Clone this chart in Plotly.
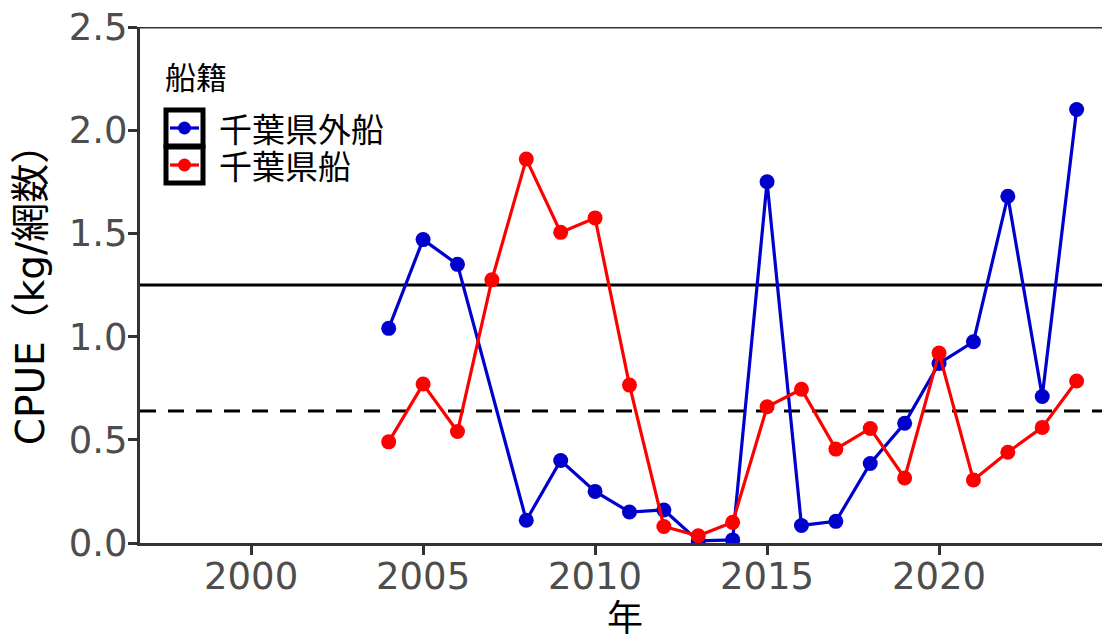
import plotly.graph_objects as go

years = list(range(2004, 2025))
outside = [1.04, 1.47, 1.35, None, 0.11, 0.40, 0.25, 0.15, 0.16, 0.01, 0.015,
           1.75, 0.085, 0.105, 0.385, 0.58, 0.87, 0.975, 1.68, 0.71, 2.10]
chiba = [0.49, 0.77, 0.54, 1.275, 1.86, 1.505, 1.575, 0.765, 0.08, 0.035, 0.10,
         0.66, 0.745, 0.455, 0.555, 0.315, 0.92, 0.305, 0.44, 0.56, 0.785]
series_names = ["千葉県外船", "千葉県船"]
series_colors = ["#0000CD", "#FF0000"]
legend_title = "船籍"
ref_solid = 1.25
ref_dashed = 0.64
y_top = 2.5
x_ticks = [2000, 2005, 2010, 2015, 2020]
y_ticks = [0.0, 0.5, 1.0, 1.5, 2.0, 2.5]

FONT = "DejaVu Sans, Noto Sans CJK JP, sans-serif"
CJK = "Noto Sans CJK JP, sans-serif"

# the page body adds an 8px offset; figure coordinates are shifted accordingly
OFF = 8
W, H = 1110 - OFF, 641 - OFF
L, R, T, B = 140 - OFF, 1110 - OFF, 27 - OFF, 543 - OFF

def px(x):
    return (x - OFF - L) / (R - L)
def py(y):
    return (B - (y - OFF)) / (B - T)

# outside-Chiba series has no 2007 value
ox = [y for y, v in zip(years, outside) if v is not None]
ov = [v for v in outside if v is not None]

fig = go.Figure()
fig.add_trace(go.Scatter(x=ox, y=ov, mode="lines+markers", name=series_names[0],
                         line=dict(color=series_colors[0], width=3.2),
                         marker=dict(color=series_colors[0], size=15)))
fig.add_trace(go.Scatter(x=years, y=chiba, mode="lines+markers", name=series_names[1],
                         line=dict(color=series_colors[1], width=3.2),
                         marker=dict(color=series_colors[1], size=15)))

fig.add_hline(y=ref_solid, line=dict(color="black", width=3), layer="below")
fig.add_hline(y=ref_dashed, line=dict(color="black", width=3, dash="16px,12px"), layer="below")
fig.add_hline(y=y_top, line=dict(color="#333333", width=3))

# manual legend (ggplot style keys with black borders)
fig.add_annotation(xref="paper", yref="paper", x=px(163), y=py(75), xanchor="left", yanchor="middle",
                   text=legend_title, showarrow=False, height=36,
                   font=dict(size=31, family=CJK, color="black"))
key_y = [128, 165]
for i, (nm, col) in enumerate(zip(series_names, series_colors)):
    yc = key_y[i]
    fig.add_shape(type="rect", xref="paper", yref="paper", x0=px(166), x1=px(203),
                  y0=py(yc + 18), y1=py(yc - 18), line=dict(color="black", width=5),
                  fillcolor="white")
    fig.add_shape(type="line", xref="paper", yref="paper", x0=px(170), x1=px(199),
                  y0=py(yc), y1=py(yc), line=dict(color=col, width=3.2))
    fig.add_shape(type="circle", xref="paper", yref="paper", x0=px(178), x1=px(191),
                  y0=py(yc + 6.5), y1=py(yc - 6.5), line=dict(color=col, width=0),
                  fillcolor=col)
    fig.add_annotation(xref="paper", yref="paper", x=px(217), y=py(yc), xanchor="left",
                       yanchor="middle", text=nm, showarrow=False, height=36,
                       font=dict(size=33, family=CJK, color="black"))

fig.update_layout(
    width=W, height=H,
    margin=dict(l=L, r=W - R, t=T, b=H - B),
    plot_bgcolor="white", paper_bgcolor="white",
    font=dict(family=FONT, color="black"),
    showlegend=False,
    xaxis=dict(range=[1996.77, 2024.97], tickvals=x_ticks, showgrid=False, zeroline=False,
               showline=True, linecolor="#333333", linewidth=3, automargin=True,
               ticks="outside", ticklen=9, tickwidth=3, tickcolor="#333333",
               ticklabelstandoff=-10,
               tickfont=dict(size=37, color="#4D4D4D", family=FONT),
               title=dict(text="年", font=dict(size=36, family=CJK), standoff=6)),
    yaxis=dict(range=[0, 2.5], tickvals=y_ticks, tickformat=".1f", showgrid=False, zeroline=False,
               showline=True, linecolor="#333333", linewidth=3, automargin=False,
               ticks="outside", ticklen=9, tickwidth=3, tickcolor="#333333",
               ticklabeloverflow="allow", ticklabelstandoff=-7,
               tickfont=dict(size=37, color="#4D4D4D", family=FONT),
               title=dict(text="CPUE（kg/網数）", font=dict(size=39, family=FONT), standoff=14)),
)

fig.write_html("out.html")
